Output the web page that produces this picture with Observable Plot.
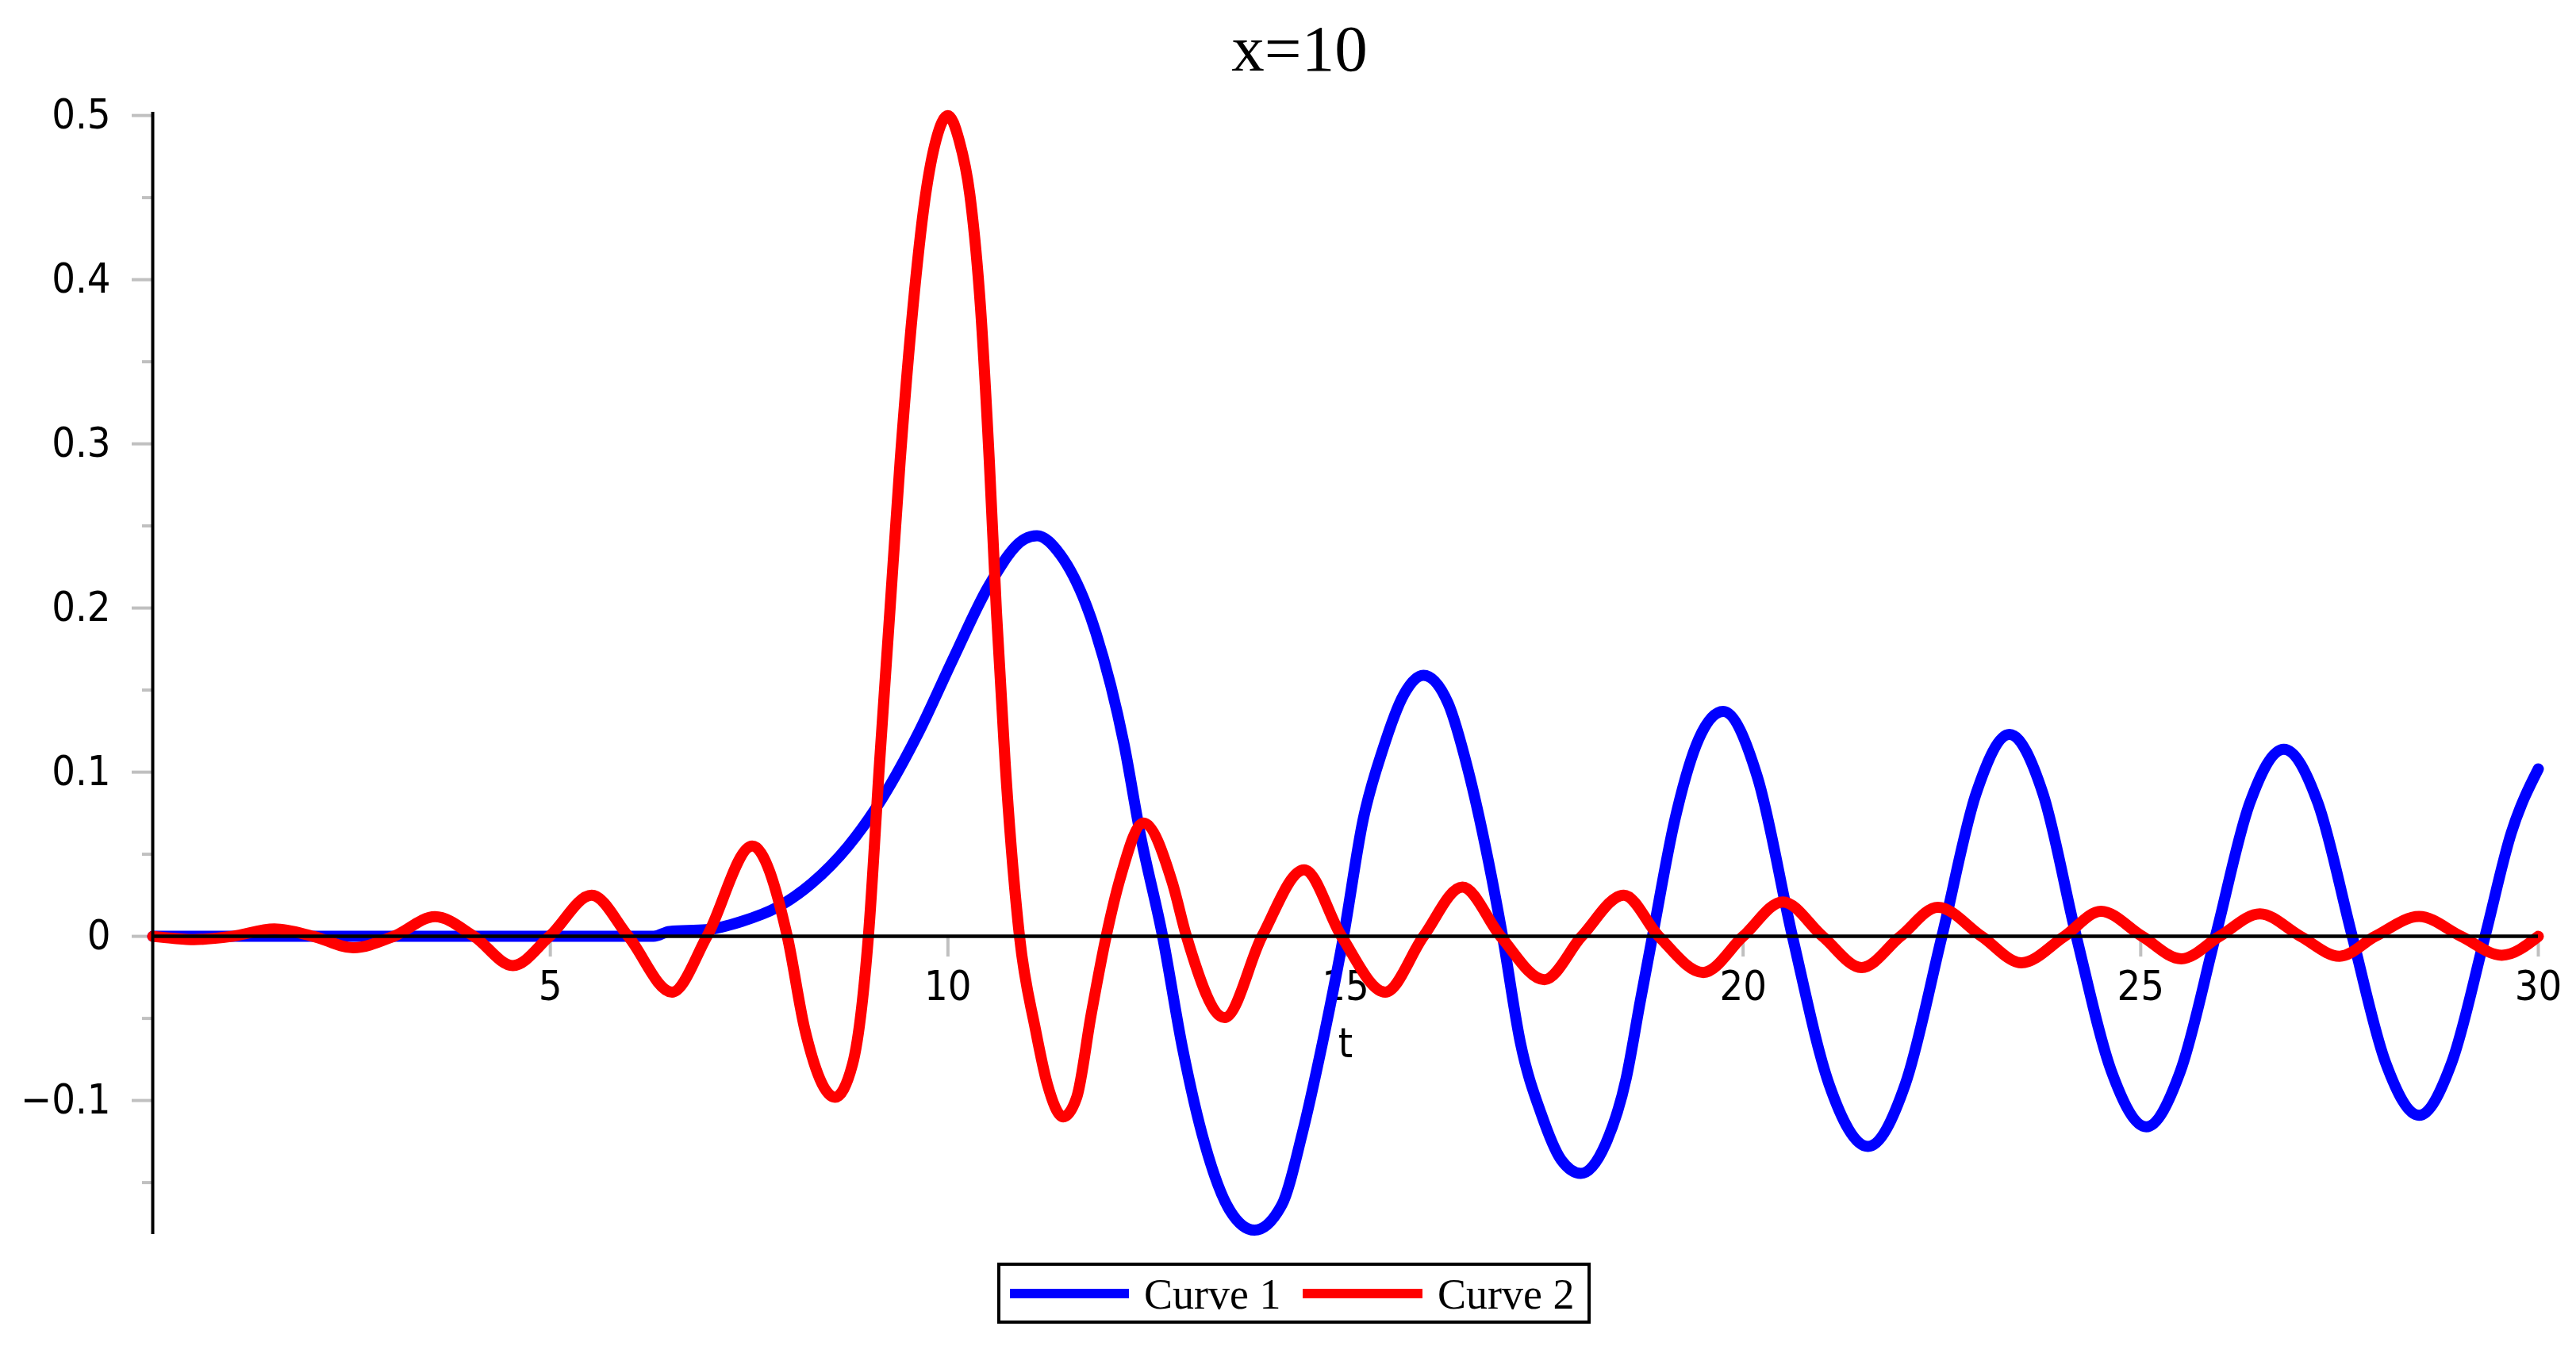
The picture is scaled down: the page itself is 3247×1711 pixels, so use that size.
<!DOCTYPE html>
<html>
<head>
<meta charset="utf-8">
<script src="https://cdn.jsdelivr.net/npm/d3@7"></script>
<script src="https://cdn.jsdelivr.net/npm/@observablehq/plot@0.6"></script>
<style>
  html, body { margin: 0; padding: 0; background: #fff; }
  #wrap { position: relative; width: 3247px; height: 1711px; overflow: hidden; background: #fff; }
  #chart { position: absolute; left: 0; top: 0; }
  #title { position: absolute; left: 1438px; width: 400px; top: 20px; text-align: center;
           font: 83px/1 "Liberation Serif", "Times New Roman", serif; color: #000; }
  #legend { position: absolute; left: 1257px; top: 1592px; width: 748px; height: 77px;
            box-sizing: border-box; border: 4px solid #000; background: #fff; }
  .sw { position: absolute; top: 29px; height: 12px; }
  .lab { position: absolute; top: 9px; font: 54px/1 "Liberation Serif", "Times New Roman", serif; color: #000; white-space: nowrap; }
</style>
</head>
<body>
<div id="wrap">
  <div id="chart"></div>
  <div id="title">x=10</div>
  <div id="legend">
    <div class="sw" style="left:12px;width:150px;background:#0000ff"></div>
    <div class="lab" style="left:181px">Curve 1</div>
    <div class="sw" style="left:381px;width:151px;background:#ff0000"></div>
    <div class="lab" style="left:551px">Curve 2</div>
  </div>
</div>
<script>
// ---- data ----
const xTicks = [5, 10, 15, 20, 25, 30];
const yTicks = [-0.1, 0, 0.1, 0.2, 0.3, 0.4, 0.5];
const yMinorTicks = [-0.15, -0.05, 0.05, 0.15, 0.25, 0.35, 0.45];
const seriesNames = ["Curve 1", "Curve 2"];

// Curve 1 (blue)
const t1 = [0, 3, 6.3, 6.5, 6.96, 7.40, 7.85, 8.29, 8.74, 9.18, 9.63, 10.075, 10.52, 10.965, 11.12, 11.41, 11.86,
  12.215, 12.42, 12.70, 12.95, 13.23, 13.54, 13.855, 14.20, 14.455, 14.71, 14.975, 15.22, 15.47, 15.73, 15.98,
  16.29, 16.54, 16.80, 16.975, 17.20, 17.46, 17.71, 17.96, 18.27, 18.53, 18.705, 18.86, 19.14, 19.44, 19.75,
  20.18, 20.62, 21.08, 21.57, 22.04, 22.50, 22.93, 23.35, 23.77, 24.19, 24.63, 25.07, 25.50, 25.94, 26.37,
  26.80, 27.23, 27.66, 28.08, 28.50, 28.91, 29.33, 29.66, 30];
const v1 = [0, 0, 0, 0.003, 0.004, 0.009, 0.0176, 0.0324, 0.0546, 0.0846, 0.124, 0.170, 0.214, 0.242, 0.244, 0.2327, 0.185,
  0.117, 0.062, 0, -0.068, -0.1265, -0.1665, -0.179, -0.1635, -0.1203, -0.065, 0, 0.0707, 0.114, 0.147, 0.159,
  0.142, 0.1015, 0.045, 0, -0.065, -0.108, -0.136, -0.1444, -0.1265, -0.0864, -0.040, 0, 0.0707, 0.12, 0.137,
  0.097, 0, -0.09, -0.128, -0.09, 0, 0.087, 0.123, 0.087, 0, -0.082, -0.116, -0.082, 0, 0.081,
  0.114, 0.081, 0, -0.077, -0.109, -0.077, 0, 0.063, 0.102];

// Curve 2 (red)
const t2 = [0, 0.25, 0.52, 1.0, 1.53, 2.02, 2.52, 3.03, 3.55, 4.04, 4.53, 4.99, 5.52, 5.98, 6.53, 6.97, 7.54, 7.98,
  8.20, 8.58, 8.80, 9.0, 9.14, 9.27, 9.40, 9.56, 9.72, 9.85, 10.0, 10.14, 10.275, 10.41, 10.52, 10.61, 10.72,
  10.90, 11.10, 11.25, 11.45, 11.62, 11.80, 11.99, 12.17, 12.46, 12.82, 13.0, 13.48, 13.95, 14.48, 14.95, 15.50, 15.98,
  16.47, 16.95, 17.50, 17.97, 18.50, 18.94, 19.50, 20.0, 20.50, 21.0, 21.49, 21.98, 22.45, 23.0, 23.50, 24.04,
  24.50, 25.02, 25.51, 25.99, 26.50, 27.01, 27.50, 27.95, 28.50, 29.03, 29.54, 30];
const v2 = [0, -0.0012, -0.002, 0, 0.0045, 0, -0.007, 0, 0.012, 0, -0.0178, 0, 0.025, 0, -0.034, 0, 0.055, 0,
  -0.0565, -0.098, -0.078, 0, 0.1055, 0.198, 0.290, 0.383, 0.452, 0.485, 0.50, 0.485, 0.452, 0.383, 0.290, 0.198, 0.1055,
  0, -0.0565, -0.09, -0.11, -0.098, -0.048, 0, 0.036, 0.069, 0.033, 0, -0.0495, 0, 0.0405, 0, -0.034, 0,
  0.030, 0, -0.0264, 0, 0.0251, 0, -0.022, 0, 0.021, 0, -0.019, 0, 0.0177, 0, -0.0161, 0,
  0.0153, 0, -0.0137, 0, 0.0137, 0, -0.0121, 0, 0.0121, 0, -0.0115, 0];

const xDomain = [0, 30];
const yDomain = [-0.1816, 0.502];
const xLabel = "t";

const curve1 = t1.map((t, i) => ({t, v: v1[i], series: seriesNames[0]}));
const curve2 = t2.map((t, i) => ({t, v: v2[i], series: seriesNames[1]}));

const tickFont = '"Liberation Sans Narrow", "DejaVu Sans Condensed", "Liberation Sans", sans-serif';
const fmt = d => d === 0 ? "0" : (d < 0 ? "\u2212" : "") + Math.abs(d).toFixed(1);

const chart = Plot.plot({
  width: 3247,
  height: 1711,
  marginLeft: 192,
  marginRight: 48,
  marginTop: 141,
  marginBottom: 155,
  style: {background: "#fff", color: "#000", fontFamily: tickFont},
  x: {domain: xDomain, axis: null, label: null},
  y: {domain: yDomain, axis: null, label: null},
  marks: [
    Plot.axisY({ticks: yMinorTicks, tickSize: 13, tickFormat: () => "", label: null,
      stroke: "#c0c0c0", strokeWidth: 4, strokeOpacity: 1}),
    Plot.axisY({ticks: yTicks, tickSize: 26, tickPadding: 27, tickFormat: fmt, label: null,
      fontSize: 52, fontFamily: tickFont, stroke: "#c0c0c0", strokeWidth: 4, strokeOpacity: 1, fill: "#000"}),
    Plot.ruleX(xTicks, {x: d => d, y1: 0, y2: 0, insetBottom: -26, stroke: "#c0c0c0", strokeWidth: 4}),
    Plot.text(xTicks, {x: d => d, y: 0, text: d => String(d), dy: 64, fontSize: 52, fontFamily: tickFont, fill: "#000"}),
    Plot.text([xLabel], {x: d3.mean(xDomain), y: 0, text: d => d, dy: 136, fontSize: 52, fontFamily: tickFont, fill: "#000"}),
    Plot.line(curve1, {x: "t", y: "v", stroke: "#0000ff", strokeWidth: 14, curve: "monotone-x"}),
    Plot.line(curve2, {x: "t", y: "v", stroke: "#ff0000", strokeWidth: 14, curve: "monotone-x"}),
    Plot.ruleY([0], {stroke: "#000", strokeWidth: 4.5}),
    Plot.ruleX([0], {stroke: "#000", strokeWidth: 4})
  ]
});
document.getElementById("chart").appendChild(chart);
</script>
</body>
</html>
